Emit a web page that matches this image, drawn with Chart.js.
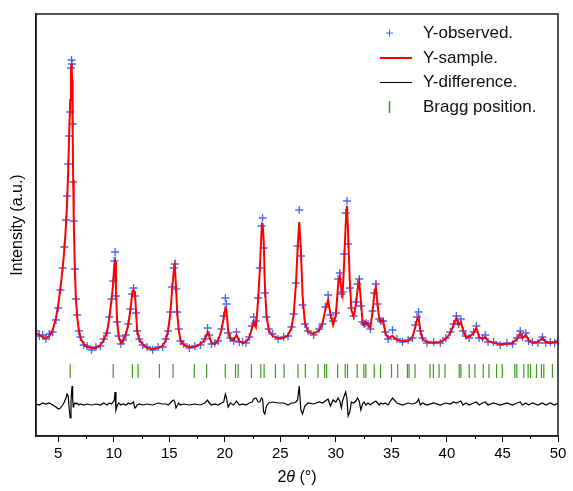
<!DOCTYPE html>
<html>
<head>
<meta charset="utf-8">
<script src="https://cdn.jsdelivr.net/npm/chart.js@4.4.1/dist/chart.umd.min.js"></script>
<style>
  html, body { margin: 0; padding: 0; background: #fff; }
  #wrap { width: 573px; height: 491px; }
</style>
</head>
<body>
<div id="wrap"><canvas id="xrd" width="573" height="491"></canvas></div>
<script>
// 2theta grid (deg)
const twoTheta = [
  3.0, 3.3, 3.6, 3.9, 4.2, 4.5, 4.8, 5.0, 5.2, 5.4,
  5.55, 5.7, 5.8, 5.9, 6.0, 6.08, 6.15, 6.2, 6.25, 6.3,
  6.35, 6.4, 6.5, 6.6, 6.7, 6.85, 7.0, 7.3, 7.6, 8.0,
  8.4, 8.8, 9.1, 9.4, 9.6, 9.8, 9.95, 10.05, 10.12, 10.2,
  10.3, 10.45, 10.65, 10.85, 11.1, 11.3, 11.5, 11.65, 11.78, 11.9,
  12.0, 12.1, 12.3, 12.6, 13.0, 13.5, 14.0, 14.4, 14.7, 14.9,
  15.1, 15.25, 15.4, 15.5, 15.6, 15.7, 15.85, 16.0, 16.3, 16.8,
  17.3, 17.8, 18.2, 18.45, 18.6, 18.8, 19.1, 19.4, 19.7, 19.9,
  20.05, 20.15, 20.3, 20.5, 20.8, 21.05, 21.3, 21.6, 21.9, 22.2,
  22.45, 22.6, 22.8, 23.0, 23.15, 23.3, 23.4, 23.5, 23.6, 23.75,
  23.95, 24.3, 24.8, 25.3, 25.7, 26.0, 26.2, 26.4, 26.55, 26.7,
  26.85, 27.0, 27.2, 27.5, 28.0, 28.5, 28.8, 29.05, 29.3, 29.5,
  29.75, 30.0, 30.2, 30.35, 30.5, 30.6, 30.75, 30.88, 31.0, 31.1,
  31.25, 31.4, 31.6, 31.8, 31.95, 32.1, 32.25, 32.4, 32.55, 32.7,
  32.9, 33.1, 33.3, 33.45, 33.6, 33.75, 33.9, 34.05, 34.25, 34.45,
  34.7, 35.1, 35.5, 36.0, 36.5, 36.9, 37.15, 37.3, 37.45, 37.6,
  37.8, 38.2, 38.8, 39.4, 39.9, 40.3, 40.6, 40.85, 41.05, 41.25,
  41.45, 41.7, 42.0, 42.4, 42.65, 42.9, 43.2, 43.45, 43.7, 44.2,
  44.8, 45.4, 45.9, 46.3, 46.6, 46.8, 47.1, 47.35, 47.7, 48.2,
  48.6, 48.9, 49.3, 49.7, 50.0
];

// observed intensity (a.u.)
const yObserved = [
  105, 100, 101, 97, 102, 104, 116, 128, 146, 168,
  189, 216, 240, 272, 300, 324, 368, 376, 372, 312,
  254, 215, 167, 137, 121, 105, 99, 91, 90, 86,
  89, 90, 97, 103, 119, 137, 155, 175, 184, 140,
  114, 100, 92, 96, 101, 112, 127, 142, 148, 140,
  123, 105, 97, 91, 89, 86, 89, 89, 97, 105,
  124, 149, 168, 172, 147, 124, 107, 95, 92, 88,
  90, 91, 97, 108, 101, 92, 93, 95, 107, 120,
  138, 132, 103, 98, 95, 104, 94, 94, 93, 99,
  110, 119, 115, 138, 168, 210, 218, 188, 143, 119,
  107, 102, 97, 99, 100, 109, 122, 153, 190, 226,
  180, 131, 112, 105, 101, 107, 112, 129, 141, 121,
  115, 123, 157, 163, 142, 144, 182, 223, 235, 192,
  148, 128, 120, 134, 152, 157, 130, 114, 112, 113,
  112, 107, 125, 143, 152, 132, 117, 115, 115, 104,
  97, 106, 97, 94, 96, 98, 111, 119, 124, 105,
  98, 93, 94, 93, 98, 104, 112, 120, 112, 117,
  105, 100, 98, 104, 110, 98, 98, 101, 94, 94,
  91, 93, 92, 98, 105, 99, 103, 95, 94, 93,
  99, 93, 94, 93, 95
];

// calculated profile (a.u.)
const ySample = [
  103, 101, 99, 98, 100, 106, 118, 131, 148, 168,
  186, 211, 233, 266, 306, 336, 366, 372, 356, 306,
  256, 216, 166, 136, 120, 106, 98, 92, 89, 88,
  88, 91, 96, 104, 118, 136, 153, 171, 174, 146,
  116, 99, 93, 95, 102, 111, 126, 141, 146, 144,
  126, 106, 96, 92, 88, 87, 88, 90, 96, 106,
  123, 146, 164, 170, 151, 126, 106, 96, 91, 89,
  89, 92, 96, 104, 100, 93, 92, 96, 106, 118,
  128, 126, 106, 97, 96, 101, 95, 93, 94, 98,
  108, 114, 109, 136, 166, 204, 213, 196, 153, 121,
  106, 100, 98, 98, 101, 108, 121, 151, 186, 214,
  186, 141, 114, 104, 102, 106, 113, 126, 136, 123,
  111, 121, 151, 160, 146, 141, 174, 211, 230, 204,
  156, 126, 119, 131, 146, 154, 136, 114, 111, 114,
  111, 108, 124, 141, 149, 131, 118, 114, 116, 103,
  98, 100, 96, 95, 95, 99, 109, 116, 119, 106,
  97, 94, 93, 94, 97, 103, 111, 118, 111, 114,
  106, 99, 99, 103, 108, 99, 97, 99, 95, 93,
  92, 92, 93, 97, 103, 98, 101, 96, 93, 94,
  98, 94, 93, 94, 94
];

// difference curve (a.u., around zero)
const yDifference = [
  0, -1, 1, 0, 1, -1, -3, -5, -4, -1,
  2, 6, 10, 8, -6, -14, 2, 12, 18, 6,
  -3, -1, 1, 0, 1, -1, 0, -1, 0, -1,
  0, -1, 1, -1, 1, 0, 2, 4, 12, -6,
  -2, 1, -1, 0, -1, 1, 0, 1, 2, -4,
  -3, -1, 0, -1, 0, -1, 1, 0, 0, -1,
  1, 3, 4, 2, -4, -2, 1, -1, 0, -1,
  0, -1, 1, 4, 1, -1, 0, -1, 1, 2,
  10, 6, -3, 1, -1, 3, -1, 0, -1, 1,
  2, 5, 6, 2, 2, 6, 5, -8, -10, -2,
  1, 2, 1, 1, -1, 1, 1, 2, 4, 18,
  -6, -10, -2, 1, 0, 2, 1, 3, 5, -2,
  4, 2, 6, 3, -4, 3, 8, 12, 5, -12,
  -8, 2, 1, 3, 6, 3, -6, 0, 2, -1,
  1, -1, 1, 2, 3, 1, -1, 1, 0, 1,
  -1, 6, 1, -1, 1, 0, 1, 2, 5, -1,
  1, -1, 1, -1, 1, 0, 2, 1, 2, 3,
  -1, 1, -1, 1, 2, -1, 1, 2, -1, 1,
  -1, 1, -1, 1, 2, -1, 1, -1, 1, -1,
  1, -1, 1, -1, 1
];

// Bragg reflection positions (2theta)
const braggPositions = [
  6.08, 9.95, 11.68, 12.19, 14.11, 15.34, 17.25, 18.36, 20.04, 20.96,
  21.20, 22.40, 23.24, 23.54, 24.56, 25.34, 26.59, 27.25, 28.39, 28.99,
  29.17, 30.16, 30.84, 31.05, 31.92, 32.52, 32.70, 33.45, 34.02, 35.01,
  35.57, 36.44, 36.59, 37.13, 38.48, 38.78, 39.29, 39.83, 41.11, 41.26,
  42.01, 42.52, 43.27, 43.78, 44.47, 44.98, 46.11, 46.29, 46.92, 47.31,
  47.52, 48.06, 48.51, 48.72, 49.50
];

const xTicks = [5, 7.5, 10, 12.5, 15, 17.5, 20, 22.5, 25, 27.5, 30, 32.5, 35, 37.5, 40, 42.5, 45, 47.5, 50];

const diffOffset = 32;   // where the difference curve sits
const braggLevel = 65;   // where the Bragg marks sit
const FONT = "'Liberation Sans', Arial, sans-serif";

const obsData = twoTheta.map((x, i) => ({ x: x, y: yObserved[i] }));
const calcData = twoTheta.map((x, i) => ({ x: x, y: ySample[i] }));
const diffData = twoTheta.map((x, i) => ({ x: x, y: yDifference[i] + diffOffset }));
const braggData = braggPositions.map(x => ({ x: x, y: braggLevel }));

// frame, minor ticks, x title, legend
const decorations = {
  id: 'decorations',
  afterDraw(chart) {
    const c = chart.ctx;
    const a = chart.chartArea;
    const xs = chart.scales.x;
    c.save();
    // box
    c.strokeStyle = '#1a1a1a';
    c.lineWidth = 1.5;
    c.strokeRect(a.left, a.top, a.right - a.left, a.bottom - a.top);
    // minor ticks
    c.lineWidth = 1;
    c.strokeStyle = '#000';
    xTicks.filter(v => v % 5 !== 0).forEach(v => {
      const px = Math.round(xs.getPixelForValue(v)) + 0.5;
      c.beginPath();
      c.moveTo(px, a.bottom);
      c.lineTo(px, a.bottom + 3);
      c.stroke();
    });
    // x title: 2θ (°)
    c.fillStyle = '#000';
    c.textBaseline = 'middle';
    const parts = [['2', ''], ['θ', 'italic '], [' (°)', '']];
    let total = 0;
    parts.forEach(p => { c.font = p[1] + '16px ' + FONT; total += c.measureText(p[0]).width; });
    let tx = (a.left + a.right) / 2 - total / 2;
    parts.forEach(p => {
      c.font = p[1] + '16px ' + FONT;
      c.fillText(p[0], tx, 478);
      tx += c.measureText(p[0]).width;
    });
    // legend
    const ds = chart.data.datasets;
    const rowY = [33, 58, 82, 107];
    const symX = 380, textX = 423;
    c.font = '17px ' + FONT;
    c.fillStyle = '#111';
    ds.forEach((d, i) => {
      c.fillText(d.label, textX, rowY[i]);
    });
    // symbols
    c.strokeStyle = ds[0].borderColor;
    c.lineWidth = 1;
    c.beginPath();
    c.moveTo(386, rowY[0]); c.lineTo(393, rowY[0]);
    c.moveTo(389.5, rowY[0] - 3.5); c.lineTo(389.5, rowY[0] + 3.5);
    c.stroke();
    c.strokeStyle = ds[1].borderColor;
    c.lineWidth = 2;
    c.beginPath(); c.moveTo(symX, rowY[1]); c.lineTo(symX + 32, rowY[1]); c.stroke();
    c.strokeStyle = '#000';
    c.lineWidth = 1;
    c.beginPath(); c.moveTo(symX, rowY[2] + 0.5); c.lineTo(symX + 32, rowY[2] + 0.5); c.stroke();
    c.strokeStyle = ds[3].borderColor;
    c.lineWidth = 1.5;
    c.beginPath(); c.moveTo(389.5, rowY[3] - 6); c.lineTo(389.5, rowY[3] + 6); c.stroke();
    c.restore();
  }
};

new Chart(document.getElementById('xrd'), {
  type: 'scatter',
  data: {
    datasets: [
      {
        label: 'Y-observed.',
        data: obsData,
        showLine: false,
        pointStyle: 'cross',
        pointRadius: 4,
        borderWidth: 1.3,
        borderColor: 'rgba(40, 75, 255, 0.85)',
        backgroundColor: 'rgba(40, 75, 255, 0.85)',
        order: 2
      },
      {
        label: 'Y-sample.',
        data: calcData,
        showLine: true,
        pointRadius: 0,
        borderColor: '#ff0000',
        borderWidth: 2,
        tension: 0,
        order: 1
      },
      {
        label: 'Y-difference.',
        data: diffData,
        showLine: true,
        pointRadius: 0,
        borderColor: '#000000',
        borderWidth: 1.2,
        order: 0
      },
      {
        label: 'Bragg position.',
        data: braggData,
        showLine: false,
        pointStyle: 'line',
        rotation: 90,
        pointRadius: 7,
        borderWidth: 1.2,
        borderColor: '#3c9e1e',
        order: 0
      }
    ]
  },
  options: {
    responsive: false,
    devicePixelRatio: 1,
    animation: false,
    layout: { padding: { top: 14, right: 15, left: 0, bottom: 0 } },
    plugins: {
      legend: { display: false },
      tooltip: { enabled: false }
    },
    scales: {
      x: {
        type: 'linear',
        min: 3,
        max: 50,
        afterBuildTicks(scale) {
          scale.ticks = xTicks.map(v => ({ value: v }));
        },
        afterFit(scale) { scale.height = 55; },
        ticks: {
          autoSkip: false,
          maxRotation: 0,
          padding: 3,
          color: '#000',
          font: { family: FONT, size: 15 },
          callback: v => (v % 5 === 0 ? String(v) : '')
        },
        grid: {
          drawOnChartArea: false,
          drawTicks: true,
          tickLength: 6,
          tickColor: ctx => (ctx.tick && ctx.tick.value % 5 === 0 ? '#000' : 'rgba(0,0,0,0)')
        },
        border: { display: true, color: '#1a1a1a', width: 1.5 }
      },
      y: {
        min: 0,
        max: 422,
        afterFit(scale) { scale.width = 36; },
        ticks: { display: false },
        grid: { display: false, drawTicks: false },
        border: { display: true, color: '#1a1a1a', width: 1.5 },
        title: {
          display: true,
          text: 'Intensity (a.u.)',
          color: '#000',
          font: { family: FONT, size: 16 },
          padding: { top: 8, bottom: 0 }
        }
      }
    }
  },
  plugins: [decorations]
});
</script>
</body>
</html>
